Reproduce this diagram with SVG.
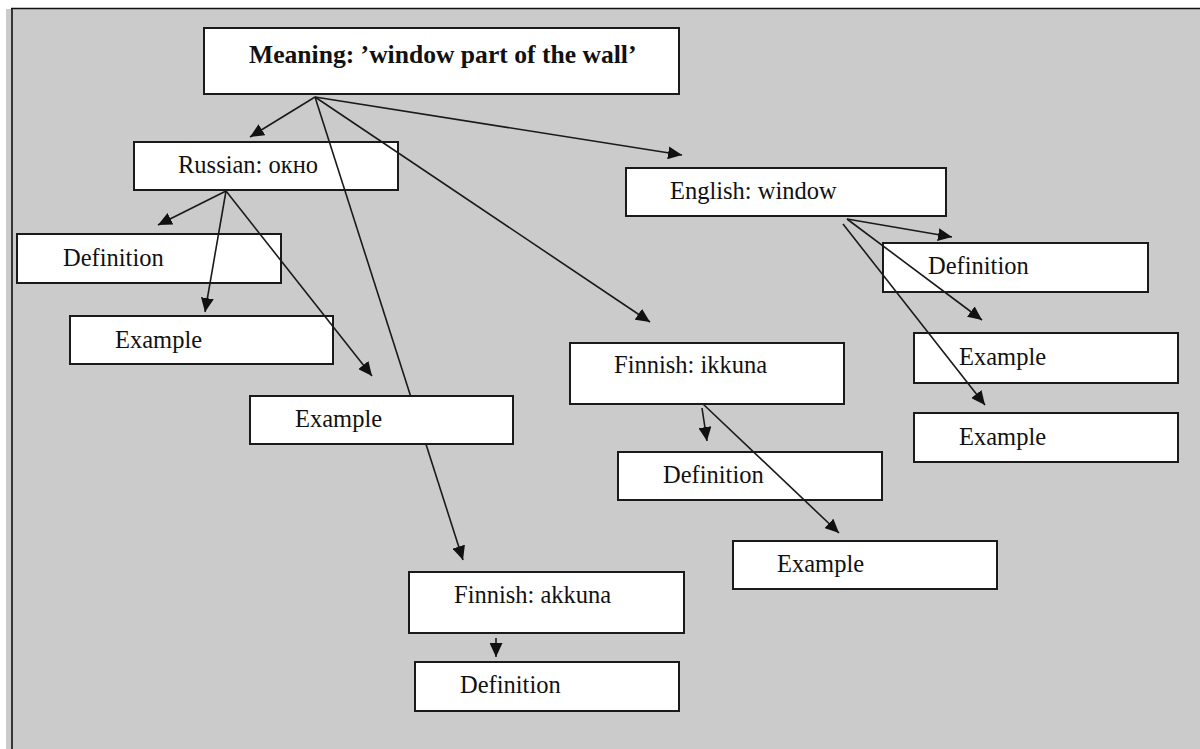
<svg xmlns="http://www.w3.org/2000/svg" width="1200" height="749" viewBox="0 0 1200 749">
<defs>
<style>
.box{fill:#ffffff;stroke:#1a1a1a;stroke-width:2}
.t{font-family:"Liberation Serif","Times New Roman",serif;font-size:24.5px;fill:#111}
.tb{font-family:"Liberation Serif","Times New Roman",serif;font-size:25.6px;font-weight:bold;fill:#111}
.c line{stroke:#1a1a1a;stroke-width:1.6;marker-end:url(#ah)}
</style>
<marker id="ah" markerUnits="userSpaceOnUse" markerWidth="16" markerHeight="13" refX="14" refY="6.5" orient="auto">
<path d="M0,0 L14,6.5 L0,13 z" fill="#111"/>
</marker>
</defs>
<rect x="0" y="0" width="1200" height="749" fill="#ffffff"/>
<rect x="6" y="9" width="1194" height="740" fill="#cbcbcb"/>
<line x1="12" y1="8" x2="12" y2="749" stroke="#111" stroke-width="1.6"/>
<line x1="11" y1="8.5" x2="1200" y2="8.5" stroke="#111" stroke-width="1.6"/>

<g id="meaning"><rect class="box" x="204" y="28" width="475" height="66"/><text class="tb" x="249" y="63">Meaning: ’window part of the wall’</text></g>
<g id="russian"><rect class="box" x="134" y="142" width="264" height="48"/><text class="t" x="178" y="173">Russian: окно</text></g>
<g id="english"><rect class="box" x="626" y="168" width="320" height="48"/><text class="t" x="670" y="199">English: window</text></g>
<g id="ru-definition"><rect class="box" x="17" y="234" width="264" height="49"/><text class="t" x="63" y="266">Definition</text></g>
<g id="ru-example-1"><rect class="box" x="70" y="316" width="263" height="48"/><text class="t" x="115" y="348">Example</text></g>
<g id="fi-ikkuna"><rect class="box" x="570" y="343" width="274" height="61"/><text class="t" x="614" y="373">Finnish: ikkuna</text></g>
<g id="en-definition"><rect class="box" x="883" y="243" width="265" height="49"/><text class="t" x="928" y="274">Definition</text></g>
<g id="en-example-1"><rect class="box" x="914" y="333" width="264" height="50"/><text class="t" x="959" y="365">Example</text></g>
<g id="en-example-2"><rect class="box" x="914" y="413" width="264" height="49"/><text class="t" x="959" y="445">Example</text></g>
<g id="ikkuna-definition"><rect class="box" x="618" y="452" width="264" height="48"/><text class="t" x="663" y="483">Definition</text></g>
<g id="ikkuna-example"><rect class="box" x="733" y="541" width="264" height="48"/><text class="t" x="777" y="572">Example</text></g>
<g id="fi-akkuna"><rect class="box" x="409" y="572" width="275" height="61"/><text class="t" x="454" y="603">Finnish: akkuna</text></g>
<g id="akkuna-definition"><rect class="box" x="415" y="662" width="264" height="49"/><text class="t" x="460" y="693">Definition</text></g>

<g id="connectors" class="c">
<line x1="315" y1="97" x2="250" y2="137"/>
<line x1="315" y1="97" x2="682" y2="155"/>
<line x1="315" y1="97" x2="650" y2="322"/>
<line x1="315" y1="97" x2="463" y2="560"/>
<line x1="226" y1="191" x2="158" y2="225"/>
<line x1="226" y1="191" x2="205" y2="312"/>
<line x1="226" y1="191" x2="372" y2="376"/>
<line x1="847" y1="219" x2="952" y2="237"/>
<line x1="847" y1="219" x2="982" y2="320"/>
<line x1="843" y1="224" x2="985" y2="405"/>
<line x1="702" y1="408" x2="707" y2="441"/>
<line x1="703" y1="404" x2="839" y2="533"/>
<line x1="496" y1="638" x2="496" y2="657"/>
</g>

<g id="ru-example-2"><rect class="box" x="250" y="396" width="263" height="48"/><text class="t" x="295" y="427">Example</text></g>
</svg>
